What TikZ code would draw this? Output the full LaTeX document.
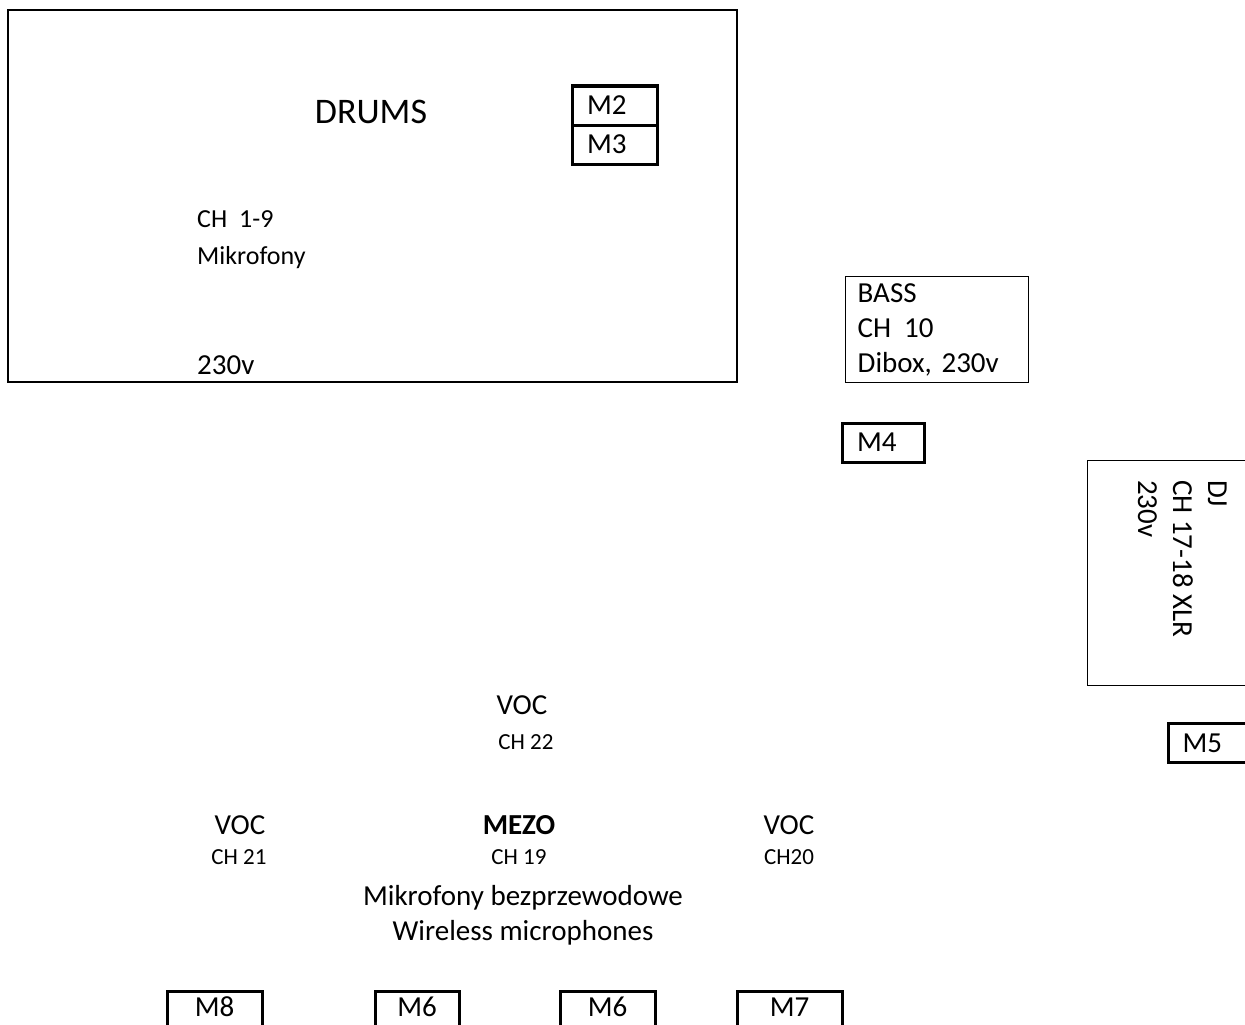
\documentclass[tikz,border=0pt]{standalone}
\usepackage{fontspec}
\setmainfont{Carlito}
\usetikzlibrary{positioning}
\tikzset{
	area/.style={rectangle, draw, line width=1.4pt, inner sep=0pt},
	mic/.style={rectangle, draw, line width=3pt, minimum height=39pt, inner xsep=15pt, inner ysep=0pt, text width=#1, align=left, font=\fontsize{29}{35}\selectfont},
	micbox/.style={rectangle, draw, line width=3pt, minimum height=40pt, minimum width=#1, inner sep=0pt, text depth=9pt, font=\fontsize{29}{35}\selectfont},
	txt/.style={inner sep=0pt, font=\fontsize{29}{35}\selectfont},
	smalltxt/.style={inner sep=0pt, font=\fontsize{23}{28}\selectfont},
}
\frenchspacing
\begin{document}
\begin{tikzpicture}[x=1pt, y=-1pt]
	\clip (0,0) rectangle (1245,1025);
	% drums
	\node[area, minimum width=729pt, minimum height=372pt] (drums) at (372.5,196) {};
	\node[txt, font=\fontsize{36}{43}\selectfont] (drumstxt) at (371,112) {DRUMS};
	\node[mic=55pt] (m2) at (614.5,105.5) {M2};
	\node[mic=55pt, below=-3pt of m2] (m3) {M3};
	\node[txt, align=left, anchor=west, font=\fontsize{26}{37}\selectfont] (drumsch) at (197,240) {CH\hspace{12pt}1-9\\Mikrofony};
	\node[txt, anchor=west] (drumspwr) at (197,365) {230v};
	% bass
	\node[area, inner xsep=12pt, text width=159pt, minimum height=106pt, align=left, anchor=north west, font=\fontsize{29}{35}\selectfont] (bass) at (845,276) {BASS\\CH\hspace{13pt}10\\Dibox, 230v};
	\node[mic=52pt] (m4) at (883,442.5) {M4};
	% dj
	\node[area, minimum width=180pt, minimum height=225pt, anchor=north west] (dj) at (1087,460) {};
	\node[txt, rotate=-90, align=left, anchor=north west] (djtxt) at (1227,480) {DJ\\CH 17-18 XLR\\230v};
	\node[mic=80pt, inner xsep=14pt, anchor=west] (m5) at (1167,743) {M5};
	% vocals
	\node[txt] (voc22) at (522,705) {VOC};
	\node[smalltxt] (ch22) at (526,742) {CH 22};
	\node[txt] (voc21) at (240,825) {VOC};
	\node[smalltxt] (ch21) at (239,857) {CH 21};
	\node[txt] (mezo) at (519,825) {\textbf{MEZO}};
	\node[smalltxt] (ch19) at (519,857) {CH 19};
	\node[txt] (voc20) at (789,825) {VOC};
	\node[smalltxt] (ch20) at (789,857) {CH20};
	\node[txt, align=center] (wireless) at (523,915) {Mikrofony bezprzewodowe\\Wireless microphones};
	% monitors
	\node[micbox=95pt, anchor=north] (m8) at (214.5,990) {M8};
	\node[micbox=84pt, anchor=north] (m6a) at (417,990) {M6};
	\node[micbox=95pt, anchor=north] (m6b) at (607.5,990) {M6};
	\node[micbox=105pt, anchor=north] (m7) at (789.5,990) {M7};
\end{tikzpicture}
\end{document}
